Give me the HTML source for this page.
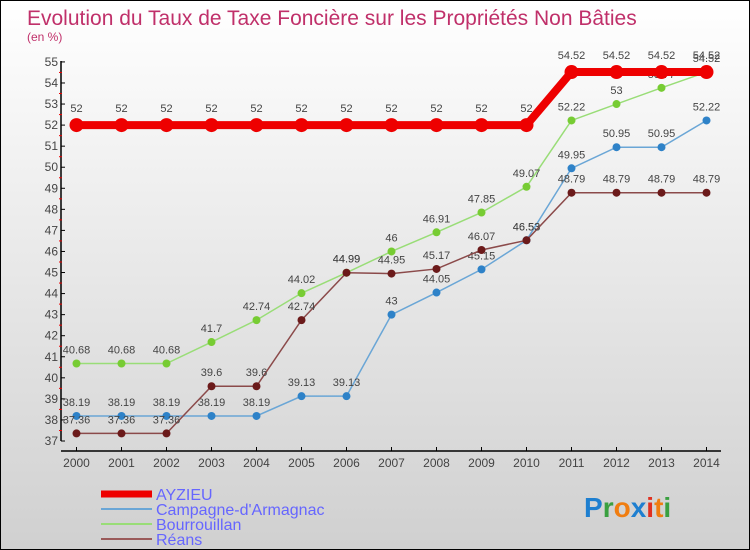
<!DOCTYPE html>
<html><head><meta charset="utf-8"><style>
body{margin:0}
#c{width:750px;height:550px;position:relative;box-sizing:border-box;border:1px solid #000;background:linear-gradient(#fff,#d0d0d0);font-family:"Liberation Sans",sans-serif;overflow:hidden}
svg text{font-family:"Liberation Sans",sans-serif}
</style></head><body>
<div id="c">
<svg width="750" height="550" id="s">
<text x="26" y="24" font-size="21" fill="#c0306a">Evolution du Taux de Taxe Foncière sur les Propriétés Non Bâties</text>
<text x="26" y="40" font-size="12" fill="#c0306a">(en %)</text>
<g id="ax"></g>
<g id="plot"></g>
<g id="leg"></g>
<g font-size="28" font-weight="bold"><text x="583" y="516"><tspan fill="#1e7fd0">P</tspan><tspan fill="#3aa040">r</tspan><tspan fill="#f07d10">o</tspan><tspan fill="#1e7fd0">x</tspan><tspan fill="#e03020">i</tspan><tspan fill="#f07d10">t</tspan><tspan fill="#3aa040">i</tspan></text></g>
</svg></div>
<script>
const years=[2000,2001,2002,2003,2004,2005,2006,2007,2008,2009,2010,2011,2012,2013,2014];
const yTicks=[37,38,39,40,41,42,43,44,45,46,47,48,49,50,51,52,53,54,55];
const ayzieu=[52,52,52,52,52,52,52,52,52,52,52,54.52,54.52,54.52,54.52];
const campagne=[38.19,38.19,38.19,38.19,38.19,39.13,39.13,43,44.05,45.15,46.53,49.95,50.95,50.95,52.22];
const bourrouillan=[40.68,40.68,40.68,41.7,42.74,44.02,44.99,46,46.91,47.85,49.07,52.22,53,53.77,54.52];
const reans=[37.36,37.36,37.36,39.6,39.6,42.74,44.99,44.95,45.17,46.07,46.53,48.79,48.79,48.79,48.79];
const seriesNames=["AYZIEU","Campagne-d'Armagnac","Bourrouillan","Réans"];
const NS="http://www.w3.org/2000/svg";
const X=i=>75.5+i*45;
const Y=v=>440-(v-37)*21.06;
function mk(t,a,p){const e=document.createElementNS(NS,t);for(const k in a)e.setAttribute(k,a[k]);p.appendChild(e);return e;}
const ax=document.getElementById('ax'),plot=document.getElementById('plot'),leg=document.getElementById('leg');
let e=mk('line',{x1:60,y1:60,x2:60,y2:440,stroke:'#000','stroke-width':1.5},ax);

e=mk('line',{x1:60,y1:450,x2:720,y2:450,stroke:'#000','stroke-width':1.5},ax);

yTicks.forEach((v,i)=>{
 mk('line',{x1:60,y1:Y(v),x2:64,y2:Y(v),stroke:'#000'},ax);
 if(i<yTicks.length-1)mk('line',{x1:58,y1:Y(v+0.5),x2:61,y2:Y(v+0.5),stroke:'#e00'},ax);
 const t=mk('text',{x:57,y:Y(v)+4,'font-size':12,'text-anchor':'end',fill:'#444'},ax);t.textContent=v;
 
});
years.forEach((y,i)=>{
 mk('line',{x1:X(i),y1:446,x2:X(i),y2:450,stroke:'#000'},ax);
 const t=mk('text',{x:X(i),y:466,'font-size':12,'text-anchor':'middle',fill:'#444'},ax);t.textContent=y;
 
});
function series(data,color,dot,w,r,name){
 const g=mk('g',{},plot);
 
 mk('polyline',{points:data.map((v,i)=>X(i)+','+Y(v)).join(' '),fill:'none',stroke:color,'stroke-width':w},g);
 data.forEach((v,i)=>{
  const c=mk('circle',{cx:X(i),cy:Y(v),r:r,fill:dot},g);
  
  const t=mk('text',{x:X(i),y:Y(v)-r-6,'font-size':11,'text-anchor':'middle',fill:'#444'},g);t.textContent=v;
 });
}
series(campagne,'#6aa6d6','#2e82c8',1.5,4,'series-campagne');
series(bourrouillan,'#99dd77','#77cc33',1.5,4,'series-bourrouillan');
series(reans,'#8b4a4a','#6b1a1a',1.5,4,'series-reans');
series(ayzieu,'#ee0000','#ee0000',8,7,'series-ayzieu');
const lc=['#ee0000','#6aa6d6','#99dd77','#9a5a5a'],lw=[7,2,2,2];
seriesNames.forEach((n,i)=>{
 const yy=493+i*15;
 mk('line',{x1:100,y1:yy,x2:151,y2:yy,stroke:lc[i],'stroke-width':lw[i]},leg);
 const t=mk('text',{x:155,y:yy+6,'font-size':16,fill:'#6666ff'},leg);t.textContent=n;
 
});
</script>
</body></html>
